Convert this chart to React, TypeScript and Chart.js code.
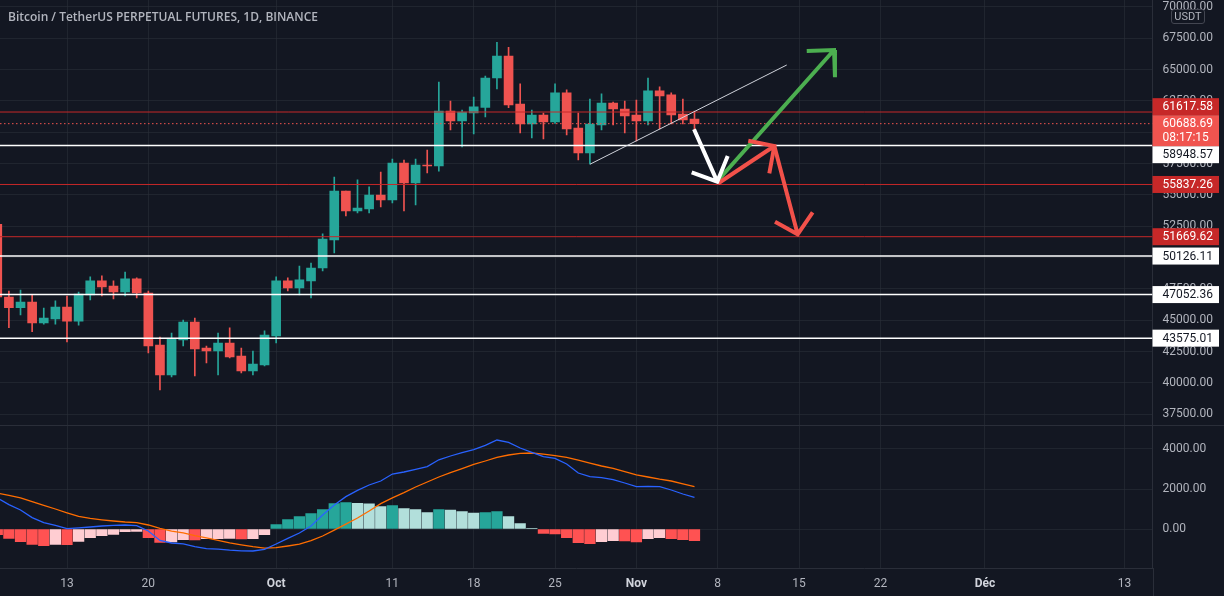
import React, { useEffect, useRef } from "react";
import { Chart, registerables } from "chart.js";

Chart.register(...registerables);

// ---------- data ----------
const dates = [
  "2021-09-07","2021-09-08","2021-09-09","2021-09-10","2021-09-11","2021-09-12","2021-09-13","2021-09-14",
  "2021-09-15","2021-09-16","2021-09-17","2021-09-18","2021-09-19","2021-09-20","2021-09-21","2021-09-22",
  "2021-09-23","2021-09-24","2021-09-25","2021-09-26","2021-09-27","2021-09-28","2021-09-29","2021-09-30",
  "2021-10-01","2021-10-02","2021-10-03","2021-10-04","2021-10-05","2021-10-06","2021-10-07","2021-10-08",
  "2021-10-09","2021-10-10","2021-10-11","2021-10-12","2021-10-13","2021-10-14","2021-10-15","2021-10-16",
  "2021-10-17","2021-10-18","2021-10-19","2021-10-20","2021-10-21","2021-10-22","2021-10-23","2021-10-24",
  "2021-10-25","2021-10-26","2021-10-27","2021-10-28","2021-10-29","2021-10-30","2021-10-31",
  "2021-11-01","2021-11-02","2021-11-03","2021-11-04","2021-11-05","2021-11-06",
];

const opens = [
  52650,46860,46010,46460,44790,45100,46060,44940,47020,48140,47740,47260,48300,47180,43030,40640,43430,44860,42790,42550,43190,42150,40960,41430,
  43750,48140,47580,48140,49170,51410,55320,53720,53880,55000,54600,57550,55960,57390,57310,61700,60900,61540,61980,64330,66090,62260,60660,61380,60820,63140,60340,58350,60580,62340,61860,
  61380,60900,63300,62980,61460,61060,
];
const highs = [
  52920,47340,47420,47020,45980,46560,46940,47260,48460,48540,48140,48850,48380,47340,43670,43990,45020,45180,42950,43990,44390,42790,42550,44150,
  48460,48380,49330,49570,51890,56430,55320,56200,55640,56830,57870,57790,57870,58590,64010,62500,61780,62820,64490,67180,66780,63860,61780,61540,63860,63380,61540,62660,63060,62420,62500,
  62580,64330,63620,63140,62660,61700,
];
const lows = [
  43000,44410,45420,44090,44700,44700,43270,44620,46620,46940,46700,46940,46780,42400,39440,40480,42950,40560,41590,40640,41990,40800,40640,41350,
  43190,47340,47020,46780,48930,50370,53320,53560,53560,54040,54360,53720,54200,56750,56900,60180,58830,59870,61220,63460,61960,59950,59550,59470,60700,59790,57790,57470,60180,60580,59950,
  59310,60580,60260,60660,60660,60020,
];
const closes = [
  46860,46010,46460,44800,45180,46060,44940,47100,48140,47660,47260,48300,47180,42950,40640,43510,44860,42710,42550,43190,42070,40960,41510,43830,
  48140,47580,48220,49170,51490,55320,53720,53960,55000,54600,57550,55960,57390,57310,61700,60900,61620,62040,64330,66090,62180,60660,61380,60820,63140,60260,58350,60660,62340,61860,61300,
  60900,63300,62900,61380,60980,60688.69,
];

const macdLine = [
  1550,1220,950,570,320,180,20,60,100,150,180,200,170,-100,-570,-700,-740,-880,-980,-1010,-1060,-1090,-1100,-1020,
  -750,-470,-200,150,700,1200,1620,1930,2200,2400,2750,2850,2980,3120,3460,3650,3820,3970,4180,4450,4330,4050,3830,3617,3533,3250,2800,2617,2567,2467,2300,
  2117,2133,2117,1950,1750,1583,
];
const signalLine = [
  1800,1680,1560,1370,1180,1000,810,630,530,460,400,350,320,200,30,-110,-195,-330,-440,-565,-690,-790,-880,-955,
  -930,-850,-760,-580,-350,-60,243,550,900,1270,1560,1820,2100,2350,2600,2820,3020,3230,3400,3583,3700,3780,3800,3740,3670,3580,3440,3290,3150,3033,2870,
  2710,2600,2490,2400,2260,2117,
];
const histogram = [
  -280,-470,-635,-770,-835,-770,-780,-617,-433,-333,-267,-133,-120,-433,-667,-650,-533,-540,-483,-480,-470,-490,-480,-283,
  217,467,617,767,967,1267,1317,1280,1260,1117,1167,1017,967,817,967,950,867,800,817,867,617,267,20,-220,-240,-433,-683,-733,-633,-583,-600,
  -650,-483,-433,-483,-533,-583,
];

const redLevels = [61617.58, 55837.26, 51669.62];
const whiteLevels = [58948.57, 50126.11, 47052.36, 43575.01];
const lastPrice = 60688.69;
const countdown = "08:17:15";

const priceTicks = [37500, 40000, 42500, 45000, 47500, 50000, 52500, 55000, 57500, 60000, 62500, 65000, 67500, 70000];
const macdTicks = [0, 2000, 4000];

// x ticks: day index counted from 2021-09-01
const xTickDays = [12, 19, 30, 40, 47, 54, 61, 68, 75, 82, 91, 103];
const xTickLabels = ["13", "20", "Oct", "11", "18", "25", "Nov", "8", "15", "22", "Déc", "13"];
const monthTicks = ["Oct", "Nov", "Déc"];

// drawings (day index, price)
const trendLine: number[][] = [[57.0, 57450], [73.94, 65370]];
const whiteShaft: number[][] = [[65.96, 60240], [67.96, 56060]];
const whiteHead: number[][] = [[65.76, 56810], [67.96, 56060], [68.86, 58110]];
const greenShaft: number[][] = [[68.05, 56195], [78.01, 66568]];
const greenHead: number[][] = [[75.66, 66488], [78.01, 66568], [78.09, 64389]];
const redShaft1: number[][] = [[68.05, 55932], [72.87, 58908]];
const redHead1: number[][] = [[70.63, 59331], [72.87, 58908], [72.44, 56730]];
const redShaft2: number[][] = [[72.87, 58908], [74.88, 51862]];
const redHead2: number[][] = [[72.93, 52868], [74.88, 51862], [76.17, 53618]];

// ---------- styling ----------
const BG = "#131722";
const GRID = "rgba(42,46,57,0.6)";
const BORDER = "#2a2e39";
const TEXT = "#b2b5be";
const UP = "#26a69a";
const DOWN = "#ef5350";
const LEVEL_RED = "#c62828";
const X_MIN = 6.234;
const X_MAX = 105.416;
const P_MIN = 36646;
const P_MAX = 70556;
const M_MIN = -1950;
const M_MAX = 5200;
const FONT = "Roboto, 'Noto Sans', sans-serif";

const DAY0 = Date.UTC(2021, 8, 1);
const dayOf = (s: string) => (Date.parse(s + "T00:00:00Z") - DAY0) / 86400000;

function poly(parts: number[][][]) {
  const out: any[] = [];
  parts.forEach((pts, k) => {
    if (k > 0) out.push({ x: pts[0][0], y: null });
    pts.forEach(([d, p]) => out.push({ x: d, y: p }));
  });
  return out;
}

function lineDs(data: any[], color: string, width: number, dash: number[] = [], order = 0) {
  return {
    type: "line" as const,
    data,
    borderColor: color,
    backgroundColor: color,
    borderWidth: width,
    borderDash: dash,
    pointRadius: 0,
    spanGaps: false,
    tension: 0,
    borderJoinStyle: "miter" as const,
    borderCapStyle: "butt" as const,
    order,
  };
}

const priceLabelsPlugin = {
  id: "priceLabels",
  afterDraw(chart: any) {
    const { ctx } = chart;
    const y = chart.scales.y;
    const left = y.left;
    const w = 66.5;
    const h = 17;
    ctx.save();
    ctx.font = `12px ${FONT}`;
    ctx.textBaseline = "middle";
    ctx.textAlign = "left";
    const cy = y.getPixelForValue(lastPrice);
    const curTop = cy - 8.5;
    const curBot = cy + 8.5 + 14;
    const items = [
      ...redLevels.map((v) => ({ v, bg: LEVEL_RED, fg: "#ffffff" })),
      ...whiteLevels.map((v) => ({ v, bg: "#ffffff", fg: "#131722" })),
    ].map((it) => ({ ...it, py: y.getPixelForValue(it.v), top: 0 }));
    const above = items.filter((i) => i.py < cy).sort((a, b) => b.py - a.py);
    const below = items.filter((i) => i.py >= cy).sort((a, b) => a.py - b.py);
    let limit = curTop;
    above.forEach((it) => {
      const bottom = Math.min(it.py + h / 2, limit);
      it.top = bottom - h;
      limit = it.top;
    });
    limit = curBot;
    below.forEach((it) => {
      it.top = Math.max(it.py - h / 2, limit);
      limit = it.top + h;
    });
    [...above, ...below].forEach((it) => {
      ctx.fillStyle = it.bg;
      ctx.fillRect(left, it.top, w, h);
      ctx.fillStyle = it.fg;
      ctx.fillText(it.v.toFixed(2), left + 10, it.top + h / 2 + 0.5);
    });
    ctx.fillStyle = "#f0544f";
    ctx.fillRect(left, curTop, w, curBot - curTop);
    ctx.fillStyle = "#ffffff";
    ctx.fillText(lastPrice.toFixed(2), left + 10, cy + 0.5);
    ctx.fillText(countdown, left + 10, cy + 14.5);
    ctx.restore();
  },
};

const paneBorderPlugin = {
  id: "paneBorder",
  afterDraw(chart: any) {
    const { ctx } = chart;
    const y = chart.scales.y;
    ctx.save();
    ctx.strokeStyle = BORDER;
    ctx.lineWidth = 1;
    ctx.beginPath();
    ctx.moveTo(0, 0.5);
    ctx.lineTo(chart.width, 0.5);
    ctx.moveTo(Math.round(y.left) + 0.5, chart.chartArea.bottom);
    ctx.lineTo(Math.round(y.left) + 0.5, chart.height);
    ctx.stroke();
    ctx.restore();
  },
};

export default function App() {
  const priceRef = useRef<HTMLCanvasElement | null>(null);
  const macdRef = useRef<HTMLCanvasElement | null>(null);

  useEffect(() => {
    document.body.style.margin = "0";
    document.body.style.background = BG;
    Chart.defaults.font.family = FONT;
    Chart.defaults.font.size = 12;
    Chart.defaults.color = TEXT;

    const xs = dates.map(dayOf);
    const candleColors = opens.map((o, i) => (closes[i] >= o ? UP : DOWN));

    const xBase = (showTicks: boolean, height: number) => ({
      type: "linear" as const,
      min: X_MIN,
      max: X_MAX,
      offset: false,
      afterBuildTicks: (ax: any) => {
        ax.ticks = xTickDays.map((v) => ({ value: v }));
      },
      afterFit: (s: any) => {
        s.height = height;
        s.paddingLeft = 0;
        s.paddingRight = 0;
      },
      grid: { color: GRID, drawTicks: false, offset: false },
      border: { display: showTicks, color: BORDER },
      ticks: {
        display: showTicks,
        autoSkip: false,
        maxRotation: 0,
        padding: 9,
        callback: (v: any) => {
          const k = xTickDays.indexOf(Number(v));
          return k >= 0 ? xTickLabels[k] : "";
        },
        color: (c: any) => {
          const k = xTickDays.indexOf(c.tick?.value);
          return k >= 0 && monthTicks.includes(xTickLabels[k]) ? "#d1d4dc" : TEXT;
        },
        font: (c: any) => {
          const k = xTickDays.indexOf(c.tick?.value);
          const bold = k >= 0 && monthTicks.includes(xTickLabels[k]);
          return { family: FONT, size: 12, weight: bold ? "bold" : "normal" } as any;
        },
      },
    });

    const yBase = (min: number, max: number, tickValues: number[]) => ({
      type: "linear" as const,
      position: "right" as const,
      min,
      max,
      afterBuildTicks: (ax: any) => {
        ax.ticks = tickValues.map((v) => ({ value: v }));
      },
      afterFit: (s: any) => {
        s.width = 71.5;
        s.paddingTop = 0;
        s.paddingBottom = 0;
      },
      grid: { color: GRID, drawTicks: false },
      border: { color: BORDER },
      ticks: {
        autoSkip: false,
        crossAlign: "near" as const,
        padding: 10,
        color: TEXT,
        font: { family: FONT, size: 12 },
        callback: (v: any) => Number(v).toFixed(2),
      },
    });

    const levelLine = (v: number, color: string, width: number, dash: number[] = []) =>
      lineDs([{ x: X_MIN, y: v }, { x: X_MAX, y: v }], color, width, dash, 2);

    const priceChart = new Chart(priceRef.current as HTMLCanvasElement, {
      type: "bar",
      data: {
        datasets: [
          {
            type: "bar",
            data: xs.map((x, i) => ({ x, y: [lows[i], highs[i]] })) as any,
            backgroundColor: candleColors,
            barThickness: 1,
            grouped: false,
            order: 6,
          } as any,
          {
            type: "bar",
            data: xs.map((x, i) => ({ x, y: [opens[i], closes[i]] })) as any,
            backgroundColor: candleColors,
            barThickness: 9,
            minBarLength: 1,
            grouped: false,
            order: 5,
          } as any,
          ...redLevels.map((v) => levelLine(v, LEVEL_RED, 1)),
          ...whiteLevels.map((v) => levelLine(v, "#ffffff", 1.5)),
          levelLine(lastPrice, DOWN, 1, [1.5, 2.5]),
          lineDs(poly([trendLine]), "#d1d4dc", 1, [], 1),
          lineDs(poly([whiteShaft, whiteHead]), "#ffffff", 4, [], 0),
          lineDs(poly([redShaft1, redHead1]), "#f2514a", 4, [], 0),
          lineDs(poly([redShaft2, redHead2]), "#f2514a", 4, [], 0),
          lineDs(poly([greenShaft, greenHead]), "#4caf50", 4, [], 0),
        ] as any,
      },
      options: {
        animation: false,
        responsive: true,
        maintainAspectRatio: false,
        events: [],
        layout: { padding: 0 },
        plugins: { legend: { display: false }, tooltip: { enabled: false } },
        scales: {
          x: xBase(false, 0),
          y: yBase(P_MIN, P_MAX, priceTicks),
        } as any,
      },
      plugins: [priceLabelsPlugin],
    });

    const histColors = histogram.map((v, i) => {
      const prev = i > 0 ? histogram[i - 1] : 0;
      if (v >= 0) return v >= prev ? UP : "#b2dfdb";
      return v < prev ? "#ff5252" : "#ffcdd2";
    });

    const macdChart = new Chart(macdRef.current as HTMLCanvasElement, {
      type: "bar",
      data: {
        datasets: [
          {
            type: "bar",
            data: xs.map((x, i) => ({ x, y: histogram[i] })) as any,
            backgroundColor: histColors,
            barThickness: 10.6,
            grouped: false,
            order: 3,
          } as any,
          lineDs(xs.map((x, i) => ({ x, y: macdLine[i] })), "#2962ff", 1.3, [], 1),
          lineDs(xs.map((x, i) => ({ x, y: signalLine[i] })), "#ff6d00", 1.3, [], 2),
        ] as any,
      },
      options: {
        animation: false,
        responsive: true,
        maintainAspectRatio: false,
        events: [],
        layout: { padding: 0 },
        plugins: { legend: { display: false }, tooltip: { enabled: false } },
        scales: {
          x: xBase(true, 28),
          y: yBase(M_MIN, M_MAX, macdTicks),
        } as any,
      },
      plugins: [paneBorderPlugin],
    });

    return () => {
      priceChart.destroy();
      macdChart.destroy();
    };
  }, []);

  return (
    <div style={{ position: "relative", width: 1224, height: 596, background: BG, overflow: "hidden" }}>
      <div style={{ position: "absolute", left: 0, top: 0, width: 1224, height: 425 }}>
        <canvas ref={priceRef} />
      </div>
      <div style={{ position: "absolute", left: 0, top: 425, width: 1224, height: 171 }}>
        <canvas ref={macdRef} />
      </div>
      <div
        style={{
          position: "absolute",
          left: 8,
          top: 9,
          fontFamily: "'Open Sans', sans-serif",
          fontWeight: 600,
          fontSize: 12,
          lineHeight: "15px",
          color: TEXT,
          whiteSpace: "nowrap",
        }}
      >
        Bitcoin / TetherUS PERPETUAL FUTURES, 1D, BINANCE
      </div>
      <div
        style={{
          position: "absolute",
          left: 1171,
          top: 9,
          width: 34,
          height: 15,
          boxSizing: "border-box",
          border: "1px solid #434651",
          borderRadius: 3,
          background: BG,
          color: TEXT,
          fontFamily: FONT,
          fontSize: 11,
          lineHeight: "13px",
          textAlign: "center",
        }}
      >
        USDT
      </div>
    </div>
  );
}
